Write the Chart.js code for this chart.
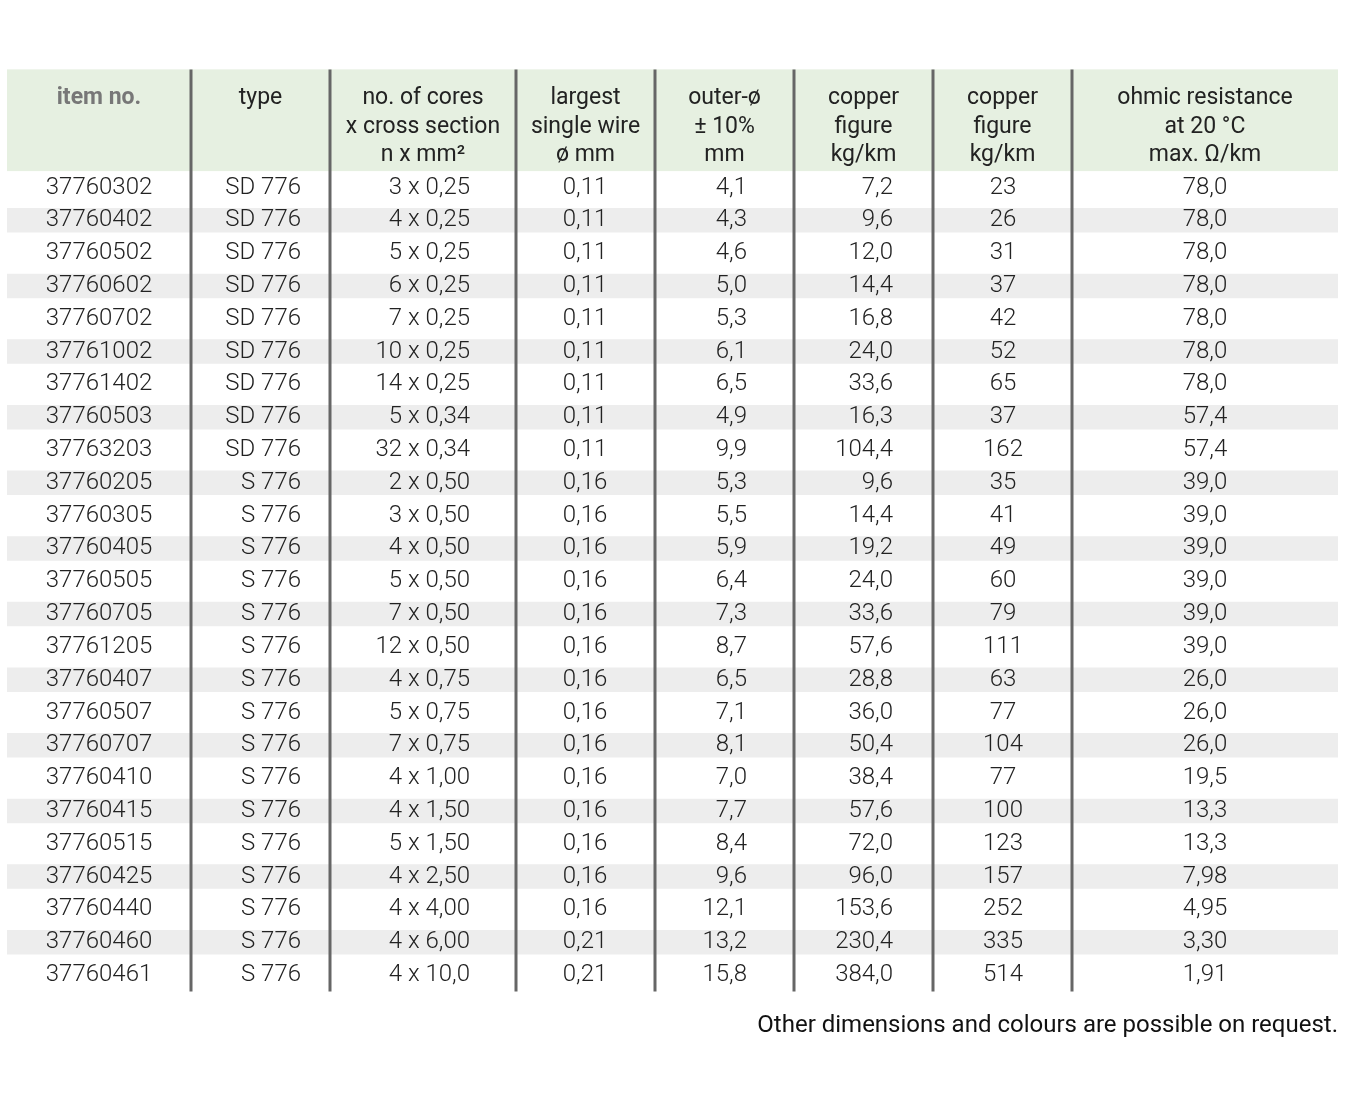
<!DOCTYPE html>
<html>
<head>
<meta charset="utf-8">
<script src="https://cdn.jsdelivr.net/npm/chart.js@4"></script>
<style>
  html, body { margin: 0; padding: 0; background: #fff; overflow: hidden; }
  canvas { display: block; }
</style>
</head>
<body>
<canvas id="tbl" width="1345" height="1110" style="width:1345px;height:1110px"></canvas>
<script>
const headers = [
    ['item no.'],
    ['type'],
    ['no. of cores', 'x cross section', 'n x mm²'],
    ['largest', 'single wire', 'ø mm'],
    ['outer-ø', '± 10%', 'mm'],
    ['copper', 'figure', 'kg/km'],
    ['copper', 'figure', 'kg/km'],
    ['ohmic resistance', 'at 20 °C', 'max. Ω/km']
];
const itemNo = ['37760302','37760402','37760502','37760602','37760702','37761002','37761402','37760503','37763203','37760205','37760305','37760405','37760505','37760705','37761205','37760407','37760507','37760707','37760410','37760415','37760515','37760425','37760440','37760460','37760461'];
const types = ['SD 776','SD 776','SD 776','SD 776','SD 776','SD 776','SD 776','SD 776','SD 776','S 776','S 776','S 776','S 776','S 776','S 776','S 776','S 776','S 776','S 776','S 776','S 776','S 776','S 776','S 776','S 776'];
const cores = ['3 x 0,25','4 x 0,25','5 x 0,25','6 x 0,25','7 x 0,25','10 x 0,25','14 x 0,25','5 x 0,34','32 x 0,34','2 x 0,50','3 x 0,50','4 x 0,50','5 x 0,50','7 x 0,50','12 x 0,50','4 x 0,75','5 x 0,75','7 x 0,75','4 x 1,00','4 x 1,50','5 x 1,50','4 x 2,50','4 x 4,00','4 x 6,00','4 x 10,0'];
const wire = ['0,11','0,11','0,11','0,11','0,11','0,11','0,11','0,11','0,11','0,16','0,16','0,16','0,16','0,16','0,16','0,16','0,16','0,16','0,16','0,16','0,16','0,16','0,16','0,21','0,21'];
const outer = ['4,1','4,3','4,6','5,0','5,3','6,1','6,5','4,9','9,9','5,3','5,5','5,9','6,4','7,3','8,7','6,5','7,1','8,1','7,0','7,7','8,4','9,6','12,1','13,2','15,8'];
const copper1 = ['7,2','9,6','12,0','14,4','16,8','24,0','33,6','16,3','104,4','9,6','14,4','19,2','24,0','33,6','57,6','28,8','36,0','50,4','38,4','57,6','72,0','96,0','153,6','230,4','384,0'];
const copper2 = ['23','26','31','37','42','52','65','37','162','35','41','49','60','79','111','63','77','104','77','100','123','157','252','335','514'];
const ohmic = ['78,0','78,0','78,0','78,0','78,0','78,0','78,0','57,4','57,4','39,0','39,0','39,0','39,0','39,0','39,0','26,0','26,0','26,0','19,5','13,3','13,3','7,98','4,95','3,30','1,91'];
const footnote = 'Other dimensions and colours are possible on request.';

const columns = [itemNo, types, cores, wire, outer, copper1, copper2, ohmic];
// column edges and text anchors in x-scale units
const edges = [7, 191, 330, 516, 655, 794, 933, 1072, 1338];
const anchors = [
    {x: 99, align: 'center'}, {x: 301, align: 'right'}, {x: 470, align: 'right'},
    {x: 585, align: 'center'}, {x: 747, align: 'right'}, {x: 893, align: 'right'},
    {x: 1003, align: 'center'}, {x: 1205, align: 'center'}
];
const HEAD = -3.1;

const stripeRows = itemNo.map((_, i) => i).filter(i => i % 2 === 1);

const tablePlugin = {
    id: 'tablePlugin',
    beforeDatasetsDraw(chart) {
        const {ctx, scales: {x, y}} = chart;
        ctx.save();
        ctx.fillStyle = '#e6f0e1';
        ctx.fillRect(x.getPixelForValue(edges[0]), y.getPixelForValue(HEAD),
            x.getPixelForValue(edges[8]) - x.getPixelForValue(edges[0]),
            y.getPixelForValue(0) - y.getPixelForValue(HEAD));
        ctx.restore();
    },
    afterDatasetsDraw(chart) {
        const {ctx, scales: {x, y}} = chart;
        ctx.save();
        ctx.textBaseline = 'middle';
        // header
        headers.forEach((lines, c) => {
            const cx = (x.getPixelForValue(edges[c]) + x.getPixelForValue(edges[c + 1])) / 2;
            ctx.textAlign = 'center';
            if (c === 0) {
                ctx.font = 'bold 23px Roboto';
                ctx.fillStyle = '#777';
            } else {
                ctx.font = '23px Roboto';
                ctx.fillStyle = '#222';
            }
            lines.forEach((t, k) => ctx.fillText(t, cx, y.getPixelForValue(HEAD) + 29 + k * 28.5));
        });
        // body
        ctx.font = '300 24px Roboto';
        ctx.fillStyle = '#222';
        columns.forEach((col, c) => {
            ctx.textAlign = anchors[c].align;
            col.forEach((t, r) => ctx.fillText(t, x.getPixelForValue(anchors[c].x), y.getPixelForValue(r + 0.5)));
        });
        // vertical lines
        ctx.strokeStyle = '#666';
        ctx.lineWidth = 3;
        edges.slice(1, 8).forEach(e => {
            const px = x.getPixelForValue(e);
            ctx.beginPath();
            ctx.moveTo(px, y.getPixelForValue(HEAD));
            ctx.lineTo(px, y.getPixelForValue(itemNo.length));
            ctx.stroke();
        });
        // footnote
        ctx.textAlign = 'right';
        ctx.font = '24px Roboto';
        ctx.fillStyle = '#111';
        ctx.fillText(footnote, x.getPixelForValue(edges[8]), y.getPixelForValue(26.05));
        ctx.restore();
    }
};

new Chart(document.getElementById('tbl'), {
    type: 'bar',
    data: {
        datasets: [{
            data: stripeRows.map(r => ({y: r + 0.5, x: [edges[0], edges[8]]})),
            backgroundColor: '#ededed',
            borderWidth: 0,
            barPercentage: 0.5,
            categoryPercentage: 1
        }]
    },
    options: {
        indexAxis: 'y',
        responsive: false,
        devicePixelRatio: 1,
        animation: false,
        layout: {padding: 0},
        plugins: {legend: {display: false}, tooltip: {enabled: false}},
        scales: {
            x: {type: 'linear', min: 0, max: 1345, display: false},
            y: {type: 'linear', min: HEAD, max: 26.5, reverse: true, display: false}
        }
    },
    plugins: [tablePlugin]
});
</script>
</body>
</html>
